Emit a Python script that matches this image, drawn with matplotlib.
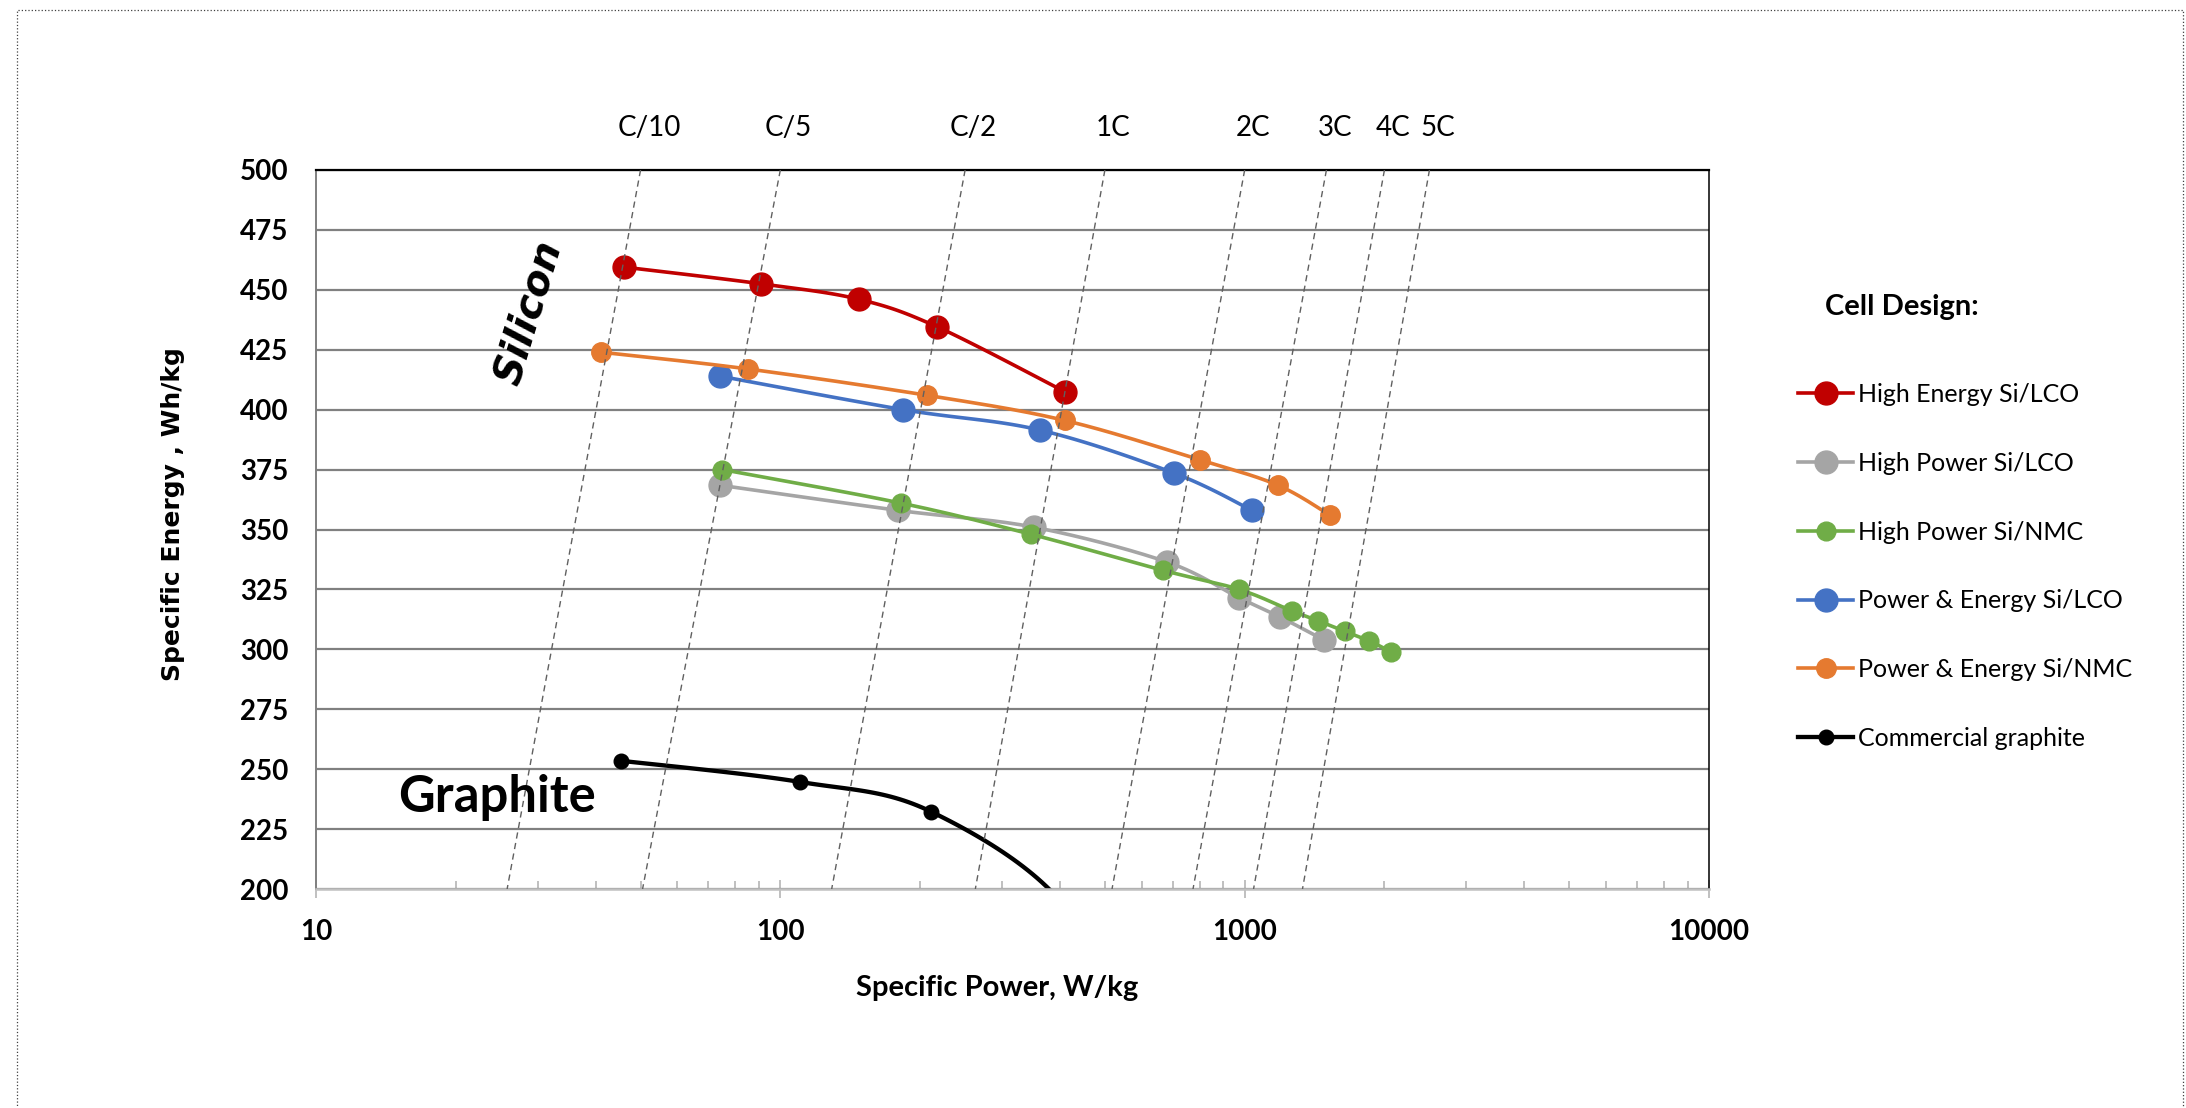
import numpy as np
import matplotlib
matplotlib.use('Agg')
import matplotlib.pyplot as plt
from matplotlib.lines import Line2D
from matplotlib.patches import Rectangle
from matplotlib.ticker import FixedLocator, LogLocator, NullFormatter

plt.rcParams['font.family'] = ['Lato', 'DejaVu Sans']

# C-rate guide lines: specific power where each line meets 500 and 200 Wh/kg
c_labels = ['C/10', 'C/5', 'C/2', '1C', '2C', '3C', '4C', '5C']
c_power_500 = [50, 100, 250, 500, 1000, 1500, 2000, 2500]
c_power_200 = [25.8, 50.5, 129, 263, 518, 774, 1045, 1332]

# cell designs (specific power W/kg, specific energy Wh/kg)
he_si_lco_p = [46, 91, 148, 218, 410]
he_si_lco_e = [459.5, 452.5, 446, 434.5, 407.5]

hp_si_lco_p = [74, 179, 351, 679, 973, 1191, 1479]
hp_si_lco_e = [368.5, 358, 351, 336.5, 321.5, 313.5, 304]

hp_si_nmc_p = [75, 182, 347, 666, 973, 1265, 1436, 1643, 1854, 2066]
hp_si_nmc_e = [375, 361, 348, 333, 325, 316, 312, 307.5, 303.5, 299]

pe_si_lco_p = [74, 184, 362, 705, 1037]
pe_si_lco_e = [414, 400, 391.5, 373.5, 358]

pe_si_nmc_p = [41, 85, 207, 410, 803, 1178, 1526]
pe_si_nmc_e = [424, 417, 406, 395.5, 379, 368.5, 356]

graphite_p = [45.4, 110, 211, 420, 550]
graphite_e = [253.5, 244.7, 232.3, 190, 120]

series = [
    ('High Energy Si/LCO', he_si_lco_p, he_si_lco_e, '#C00000', 16.5, 2.6),
    ('High Power Si/LCO', hp_si_lco_p, hp_si_lco_e, '#A5A5A5', 16.5, 2.6),
    ('High Power Si/NMC', hp_si_nmc_p, hp_si_nmc_e, '#70AD47', 13.5, 2.6),
    ('Power & Energy Si/LCO', pe_si_lco_p, pe_si_lco_e, '#4472C4', 16.5, 2.6),
    ('Power & Energy Si/NMC', pe_si_nmc_p, pe_si_nmc_e, '#E57A30', 14.0, 2.6),
    ('Commercial graphite', graphite_p, graphite_e, 'black', 10.5, 3.1),
]

W, H = 2186, 1108
fig = plt.figure(figsize=(W / 100, H / 100), dpi=100)


def fx(px):
    return px / W


def fy(py):
    return 1 - py / H


ax = fig.add_axes([fx(316), fy(889), (1709 - 316) / W, (889 - 170) / H])
ax.set_xscale('log')
ax.set_xlim(10, 10000)
ax.set_ylim(200, 500)

ax.set_yticks(np.arange(200, 501, 25))
ax.yaxis.grid(True, color='#808080', lw=1.6)
ax.set_axisbelow(True)
ax.tick_params(axis='y', length=0, pad=20, labelsize=20)
for lab in ax.get_yticklabels():
    lab.set_fontweight('bold')

ax.xaxis.set_major_locator(FixedLocator([10, 100, 1000, 10000]))
ax.set_xticklabels(['10', '100', '1000', '10000'], fontsize=20, fontweight='bold')
ax.xaxis.set_minor_locator(LogLocator(base=10, subs=np.arange(2, 10)))
ax.xaxis.set_minor_formatter(NullFormatter())
ax.tick_params(axis='x', which='major', direction='inout', length=13, width=1.4,
               color='#c0c0c0', pad=15)
ax.tick_params(axis='x', which='minor', direction='in', length=6, width=1.4,
               color='#c0c0c0')

ax.spines['top'].set_color('black')
ax.spines['top'].set_linewidth(1.6)
ax.spines['right'].set_color('black')
ax.spines['right'].set_linewidth(1.1)
ax.spines['left'].set_color('#808080')
ax.spines['left'].set_linewidth(1.4)
ax.spines['bottom'].set_color('#c0c0c0')
ax.spines['bottom'].set_linewidth(1.8)


def smooth(xs, ys, steps=30):
    """Excel-like smoothed line: Catmull-Rom bezier in display space."""
    P = ax.transData.transform(np.column_stack([xs, ys]))
    n = len(P)
    t = np.linspace(0, 1, steps)[1:, None]
    out = [P[0]]
    for i in range(n - 1):
        p0, p1 = P[i], P[i + 1]
        prev = P[i - 1] if i > 0 else P[i]
        nxt = P[i + 2] if i + 2 < n else P[i + 1]
        c1 = p0 + (p1 - prev) / 6
        c2 = p1 - (nxt - p0) / 6
        seg = ((1 - t) ** 3 * p0 + 3 * (1 - t) ** 2 * t * c1
               + 3 * (1 - t) * t ** 2 * c2 + t ** 3 * p1)
        out.extend(seg)
    out = ax.transData.inverted().transform(np.array(out))
    return out[:, 0], out[:, 1]


handles = []
for name, xs, ys, col, ms, lw in series:
    sx, sy = smooth(xs, ys)
    ax.plot(sx, sy, color=col, lw=lw, solid_capstyle='round')
    ax.plot(xs, ys, ls='none', marker='o', ms=ms, color=col)
    handles.append(Line2D([], [], color=col, lw=lw, marker='o', ms=ms))

# C-rate guide lines
for lab, p_top, p_bot in zip(c_labels, c_power_500, c_power_200):
    ax.plot([p_top, p_bot], [500, 200], color='#606060', lw=1.0,
            dashes=(4.5, 3.2), zorder=6)
    ax.annotate(lab, xy=(p_top, 500), xytext=(6, 30), textcoords='offset points',
                ha='center', va='center', fontsize=20, annotation_clip=False)

fig.text(fx(529), fy(313), 'Silicon', rotation=73, ha='center', va='center',
         fontsize=28.5, fontweight='bold', style='italic', family='DejaVu Sans')
fig.text(fx(497), fy(812), 'Graphite', ha='center', va='baseline',
         fontsize=36.5, fontweight='bold')

fig.text(fx(173), fy(514), 'Specific Energy , Wh/kg', rotation=90, ha='center',
         va='center', fontsize=18, fontweight='bold', family='DejaVu Sans')
fig.text(fx(997), fy(988), 'Specific Power, W/kg', ha='center', va='center',
         fontsize=21, fontweight='bold')

fig.text(fx(1825), fy(307), 'Cell Design:', ha='left', va='center',
         fontsize=21, fontweight='bold')
fig.legend(handles, [s[0] for s in series], loc='upper left',
           bbox_to_anchor=(fx(1798), fy(383)), frameon=False, fontsize=18,
           handlelength=2.2, handletextpad=0.2, labelspacing=1.83,
           borderpad=0, borderaxespad=0)

# dotted frame around the chart area
fig.add_artist(Rectangle((17, -20), 2183 - 17, H - 10 + 20, transform=None,
                         fill=False, ls=':', lw=0.9, edgecolor='#404040'))

fig.savefig('out.png', dpi=100)
